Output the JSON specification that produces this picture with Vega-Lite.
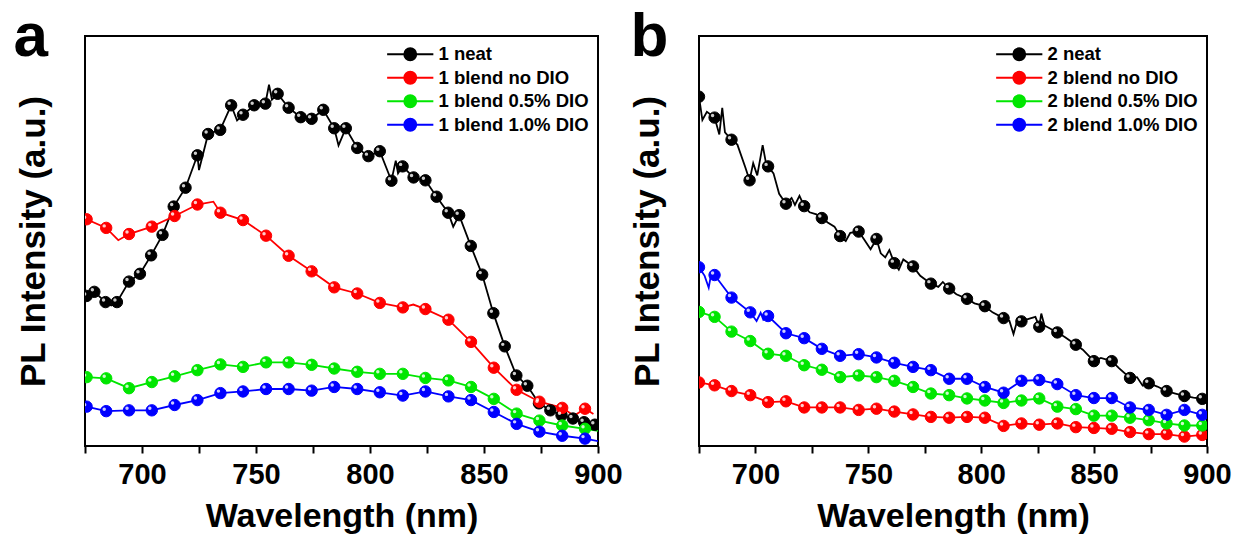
{
 "$schema": "https://vega.github.io/schema/vega-lite/v6.json",
 "background": "white",
 "padding": {"left": 12, "top": 4, "right": 5, "bottom": 0},
 "bounds": "flush",
 "spacing": 101,
 "config": {
  "font": "Liberation Sans",
  "view": {"stroke": "#000", "strokeWidth": 2},
  "axisX": {"domain": false, "grid": false, "tickSize": 7, "tickWidth": 2, "tickColor": "#000", "labelFontSize": 29, "labelFontWeight": "bold", "labelColor": "#000", "labelPadding": 7, "titleFontSize": 34, "titleFontWeight": "bold", "titleColor": "#000", "titlePadding": 10},
  "axisY": {"domain": false, "grid": false, "ticks": false, "labels": false, "minExtent": 0, "titleFontSize": 35, "titleFontWeight": "bold", "titleColor": "#000", "titlePadding": 34},
  "legend": {"title": null, "orient": "top-right", "offset": 9, "padding": 0, "symbolSize": 156, "symbolStrokeWidth": 2, "labelFontSize": 18.5, "labelFontWeight": "bold", "labelColor": "#000", "labelOffset": 19, "rowPadding": 2.5}
 },
 "datasets": {
  "a": [
   {"s":"1 neat","w":675,"v":36,"m":0},
   {"s":"1 neat","w":675.7,"v":36.6,"m":1},
   {"s":"1 neat","w":679.1,"v":37.6,"m":1},
   {"s":"1 neat","w":684,"v":35.1,"m":1},
   {"s":"1 neat","w":686.5,"v":34.3,"m":0},
   {"s":"1 neat","w":689,"v":35.1,"m":1},
   {"s":"1 neat","w":694.3,"v":40.1,"m":1},
   {"s":"1 neat","w":699.1,"v":42,"m":1},
   {"s":"1 neat","w":704,"v":46.5,"m":1},
   {"s":"1 neat","w":709,"v":51.5,"m":1},
   {"s":"1 neat","w":713.9,"v":58.4,"m":1},
   {"s":"1 neat","w":719.1,"v":63,"m":1},
   {"s":"1 neat","w":724.3,"v":70.9,"m":1},
   {"s":"1 neat","w":725,"v":67.3,"m":0},
   {"s":"1 neat","w":729,"v":76.1,"m":1},
   {"s":"1 neat","w":734.3,"v":77.1,"m":1},
   {"s":"1 neat","w":739.1,"v":83.1,"m":1},
   {"s":"1 neat","w":741.7,"v":79.4,"m":0},
   {"s":"1 neat","w":744.3,"v":80.8,"m":1},
   {"s":"1 neat","w":749.2,"v":83.1,"m":1},
   {"s":"1 neat","w":754.1,"v":83.5,"m":1},
   {"s":"1 neat","w":755.7,"v":88.1,"m":0},
   {"s":"1 neat","w":757,"v":84.5,"m":0},
   {"s":"1 neat","w":759.5,"v":85.9,"m":1},
   {"s":"1 neat","w":764.3,"v":82.5,"m":1},
   {"s":"1 neat","w":769.6,"v":80.2,"m":1},
   {"s":"1 neat","w":774.4,"v":79.8,"m":1},
   {"s":"1 neat","w":779.5,"v":82,"m":1},
   {"s":"1 neat","w":784.3,"v":77.5,"m":1},
   {"s":"1 neat","w":786.2,"v":73.3,"m":0},
   {"s":"1 neat","w":789.4,"v":77.5,"m":1},
   {"s":"1 neat","w":794.4,"v":72.7,"m":1},
   {"s":"1 neat","w":799.3,"v":70.7,"m":1},
   {"s":"1 neat","w":804.3,"v":71.9,"m":1},
   {"s":"1 neat","w":809.4,"v":64.7,"m":1},
   {"s":"1 neat","w":811.3,"v":69.6,"m":0},
   {"s":"1 neat","w":812.3,"v":66.5,"m":0},
   {"s":"1 neat","w":814.3,"v":68.2,"m":1},
   {"s":"1 neat","w":819.1,"v":65.5,"m":1},
   {"s":"1 neat","w":824.3,"v":64.8,"m":1},
   {"s":"1 neat","w":829.2,"v":60.8,"m":1},
   {"s":"1 neat","w":834.3,"v":56.9,"m":1},
   {"s":"1 neat","w":836.5,"v":53.5,"m":0},
   {"s":"1 neat","w":839.1,"v":56.3,"m":1},
   {"s":"1 neat","w":844.2,"v":48.8,"m":1},
   {"s":"1 neat","w":849.2,"v":41.8,"m":1},
   {"s":"1 neat","w":854.1,"v":32.4,"m":1},
   {"s":"1 neat","w":859.1,"v":24.3,"m":1},
   {"s":"1 neat","w":864.2,"v":17.2,"m":1},
   {"s":"1 neat","w":869,"v":14.7,"m":1},
   {"s":"1 neat","w":874.1,"v":10.4,"m":1},
   {"s":"1 neat","w":879.1,"v":8.7,"m":1},
   {"s":"1 neat","w":884,"v":7.5,"m":1},
   {"s":"1 neat","w":889,"v":6.7,"m":1},
   {"s":"1 neat","w":893.9,"v":5.8,"m":1},
   {"s":"1 neat","w":898.6,"v":5.2,"m":1},
   {"s":"1 neat","w":900,"v":5,"m":0},

   {"s":"1 blend no DIO","w":675,"v":56,"m":0},
   {"s":"1 blend no DIO","w":675.7,"v":55.3,"m":1},
   {"s":"1 blend no DIO","w":684.3,"v":53.2,"m":1},
   {"s":"1 blend no DIO","w":689.6,"v":50.2,"m":0},
   {"s":"1 blend no DIO","w":694.3,"v":51.7,"m":1},
   {"s":"1 blend no DIO","w":704.3,"v":53.5,"m":1},
   {"s":"1 blend no DIO","w":714.3,"v":56.1,"m":1},
   {"s":"1 blend no DIO","w":724.3,"v":58.9,"m":1},
   {"s":"1 blend no DIO","w":731.3,"v":59.6,"m":0},
   {"s":"1 blend no DIO","w":734.4,"v":56.9,"m":1},
   {"s":"1 blend no DIO","w":744.3,"v":55.1,"m":1},
   {"s":"1 blend no DIO","w":754.4,"v":51.3,"m":1},
   {"s":"1 blend no DIO","w":764.3,"v":46.4,"m":1},
   {"s":"1 blend no DIO","w":774.4,"v":42.6,"m":1},
   {"s":"1 blend no DIO","w":784.3,"v":38.7,"m":1},
   {"s":"1 blend no DIO","w":794.4,"v":37.2,"m":1},
   {"s":"1 blend no DIO","w":804.3,"v":34.9,"m":1},
   {"s":"1 blend no DIO","w":814.4,"v":33.8,"m":1},
   {"s":"1 blend no DIO","w":819,"v":34.5,"m":0},
   {"s":"1 blend no DIO","w":824.3,"v":33.4,"m":1},
   {"s":"1 blend no DIO","w":834.4,"v":30.8,"m":1},
   {"s":"1 blend no DIO","w":844.3,"v":25.4,"m":1},
   {"s":"1 blend no DIO","w":854.3,"v":19.1,"m":1},
   {"s":"1 blend no DIO","w":864.3,"v":13.7,"m":1},
   {"s":"1 blend no DIO","w":874.3,"v":10.8,"m":1},
   {"s":"1 blend no DIO","w":884.3,"v":9.3,"m":1},
   {"s":"1 blend no DIO","w":889.5,"v":7.4,"m":0},
   {"s":"1 blend no DIO","w":894.3,"v":9.1,"m":1},
   {"s":"1 blend no DIO","w":898,"v":7.8,"m":0},

   {"s":"1 blend 0.5% DIO","w":675,"v":17,"m":0},
   {"s":"1 blend 0.5% DIO","w":675.7,"v":16.8,"m":1},
   {"s":"1 blend 0.5% DIO","w":684.3,"v":16.5,"m":1},
   {"s":"1 blend 0.5% DIO","w":694.3,"v":14.1,"m":1},
   {"s":"1 blend 0.5% DIO","w":704.3,"v":15.6,"m":1},
   {"s":"1 blend 0.5% DIO","w":714.3,"v":17,"m":1},
   {"s":"1 blend 0.5% DIO","w":724.3,"v":18.5,"m":1},
   {"s":"1 blend 0.5% DIO","w":734.4,"v":19.9,"m":1},
   {"s":"1 blend 0.5% DIO","w":744.3,"v":19.3,"m":1},
   {"s":"1 blend 0.5% DIO","w":754.4,"v":20.4,"m":1},
   {"s":"1 blend 0.5% DIO","w":764.3,"v":20.4,"m":1},
   {"s":"1 blend 0.5% DIO","w":774.4,"v":19.8,"m":1},
   {"s":"1 blend 0.5% DIO","w":784.3,"v":18.9,"m":1},
   {"s":"1 blend 0.5% DIO","w":794.4,"v":18.1,"m":1},
   {"s":"1 blend 0.5% DIO","w":804.3,"v":17.6,"m":1},
   {"s":"1 blend 0.5% DIO","w":814.4,"v":17.6,"m":1},
   {"s":"1 blend 0.5% DIO","w":824.3,"v":16.6,"m":1},
   {"s":"1 blend 0.5% DIO","w":834.4,"v":16,"m":1},
   {"s":"1 blend 0.5% DIO","w":844.3,"v":14.4,"m":1},
   {"s":"1 blend 0.5% DIO","w":854.3,"v":11.5,"m":1},
   {"s":"1 blend 0.5% DIO","w":864.3,"v":7.9,"m":1},
   {"s":"1 blend 0.5% DIO","w":874.3,"v":6.2,"m":1},
   {"s":"1 blend 0.5% DIO","w":884.3,"v":5,"m":1},
   {"s":"1 blend 0.5% DIO","w":894.3,"v":4.2,"m":1},
   {"s":"1 blend 0.5% DIO","w":900,"v":3.7,"m":0},

   {"s":"1 blend 1.0% DIO","w":675,"v":9.8,"m":0},
   {"s":"1 blend 1.0% DIO","w":675.7,"v":9.6,"m":1},
   {"s":"1 blend 1.0% DIO","w":684.3,"v":8.5,"m":1},
   {"s":"1 blend 1.0% DIO","w":694.3,"v":8.7,"m":1},
   {"s":"1 blend 1.0% DIO","w":704.3,"v":8.7,"m":1},
   {"s":"1 blend 1.0% DIO","w":714.3,"v":10,"m":1},
   {"s":"1 blend 1.0% DIO","w":724.3,"v":11.2,"m":1},
   {"s":"1 blend 1.0% DIO","w":734.4,"v":12.9,"m":1},
   {"s":"1 blend 1.0% DIO","w":744.3,"v":13.3,"m":1},
   {"s":"1 blend 1.0% DIO","w":754.4,"v":13.9,"m":1},
   {"s":"1 blend 1.0% DIO","w":764.3,"v":13.9,"m":1},
   {"s":"1 blend 1.0% DIO","w":774.4,"v":13.5,"m":1},
   {"s":"1 blend 1.0% DIO","w":784.3,"v":14.4,"m":1},
   {"s":"1 blend 1.0% DIO","w":794.4,"v":13.9,"m":1},
   {"s":"1 blend 1.0% DIO","w":804.3,"v":13.1,"m":1},
   {"s":"1 blend 1.0% DIO","w":814.4,"v":12.3,"m":1},
   {"s":"1 blend 1.0% DIO","w":824.3,"v":13.3,"m":1},
   {"s":"1 blend 1.0% DIO","w":834.4,"v":12.1,"m":1},
   {"s":"1 blend 1.0% DIO","w":844.3,"v":11.2,"m":1},
   {"s":"1 blend 1.0% DIO","w":854.3,"v":8.3,"m":1},
   {"s":"1 blend 1.0% DIO","w":864.3,"v":5.4,"m":1},
   {"s":"1 blend 1.0% DIO","w":874.3,"v":3.5,"m":1},
   {"s":"1 blend 1.0% DIO","w":884.3,"v":2.5,"m":1},
   {"s":"1 blend 1.0% DIO","w":894.3,"v":1.8,"m":1},
   {"s":"1 blend 1.0% DIO","w":900,"v":1.2,"m":0}
  ],
  "b": [
   {"s":"2 neat","w":675,"v":85.2,"m":1},
   {"s":"2 neat","w":676.5,"v":79.5,"m":0},
   {"s":"2 neat","w":678.5,"v":81.5,"m":0},
   {"s":"2 neat","w":681.9,"v":80.1,"m":1},
   {"s":"2 neat","w":684,"v":76,"m":0},
   {"s":"2 neat","w":685.3,"v":82.5,"m":0},
   {"s":"2 neat","w":686.5,"v":76.5,"m":0},
   {"s":"2 neat","w":689.4,"v":74.7,"m":1},
   {"s":"2 neat","w":692,"v":73.5,"m":0},
   {"s":"2 neat","w":695.5,"v":68,"m":0},
   {"s":"2 neat","w":697.4,"v":64.8,"m":1},
   {"s":"2 neat","w":699,"v":69,"m":0},
   {"s":"2 neat","w":700.8,"v":66,"m":0},
   {"s":"2 neat","w":703.2,"v":73.4,"m":0},
   {"s":"2 neat","w":704.5,"v":69.5,"m":0},
   {"s":"2 neat","w":705.6,"v":68.2,"m":1},
   {"s":"2 neat","w":708,"v":66.5,"m":0},
   {"s":"2 neat","w":710.5,"v":61.5,"m":0},
   {"s":"2 neat","w":713.5,"v":59.1,"m":1},
   {"s":"2 neat","w":716,"v":60.5,"m":0},
   {"s":"2 neat","w":717.5,"v":58.8,"m":0},
   {"s":"2 neat","w":719.5,"v":61,"m":0},
   {"s":"2 neat","w":721.6,"v":58.5,"m":1},
   {"s":"2 neat","w":724,"v":57,"m":0},
   {"s":"2 neat","w":727,"v":56.5,"m":0},
   {"s":"2 neat","w":729.4,"v":55.6,"m":1},
   {"s":"2 neat","w":732,"v":54.5,"m":0},
   {"s":"2 neat","w":735,"v":53.5,"m":0},
   {"s":"2 neat","w":737.5,"v":51.2,"m":1},
   {"s":"2 neat","w":740,"v":50,"m":0},
   {"s":"2 neat","w":742,"v":52,"m":0},
   {"s":"2 neat","w":745.7,"v":52.3,"m":1},
   {"s":"2 neat","w":748,"v":50.5,"m":0},
   {"s":"2 neat","w":751,"v":48,"m":0},
   {"s":"2 neat","w":753.6,"v":50.5,"m":1},
   {"s":"2 neat","w":755.5,"v":47,"m":0},
   {"s":"2 neat","w":757.5,"v":46,"m":0},
   {"s":"2 neat","w":759.3,"v":47.8,"m":0},
   {"s":"2 neat","w":761.5,"v":44.6,"m":1},
   {"s":"2 neat","w":763.5,"v":43,"m":0},
   {"s":"2 neat","w":765.5,"v":45.5,"m":0},
   {"s":"2 neat","w":769.8,"v":43.8,"m":1},
   {"s":"2 neat","w":773,"v":41.5,"m":0},
   {"s":"2 neat","w":777.7,"v":39.6,"m":1},
   {"s":"2 neat","w":781,"v":38.8,"m":0},
   {"s":"2 neat","w":783,"v":40,"m":0},
   {"s":"2 neat","w":785.8,"v":38.4,"m":1},
   {"s":"2 neat","w":789,"v":37,"m":0},
   {"s":"2 neat","w":793.7,"v":35.9,"m":1},
   {"s":"2 neat","w":797,"v":34.8,"m":0},
   {"s":"2 neat","w":801.6,"v":34.1,"m":1},
   {"s":"2 neat","w":805,"v":32.6,"m":0},
   {"s":"2 neat","w":809.9,"v":31.2,"m":1},
   {"s":"2 neat","w":812.5,"v":30.5,"m":0},
   {"s":"2 neat","w":814.3,"v":27.3,"m":0},
   {"s":"2 neat","w":815.8,"v":30.3,"m":0},
   {"s":"2 neat","w":817.8,"v":30.4,"m":1},
   {"s":"2 neat","w":821,"v":31,"m":0},
   {"s":"2 neat","w":824,"v":31.5,"m":0},
   {"s":"2 neat","w":825.7,"v":29.1,"m":1},
   {"s":"2 neat","w":826.6,"v":32.3,"m":0},
   {"s":"2 neat","w":828,"v":29.4,"m":0},
   {"s":"2 neat","w":833.7,"v":27.7,"m":1},
   {"s":"2 neat","w":837,"v":26.6,"m":0},
   {"s":"2 neat","w":841.9,"v":24.7,"m":1},
   {"s":"2 neat","w":845,"v":23.5,"m":0},
   {"s":"2 neat","w":849.9,"v":20.7,"m":1},
   {"s":"2 neat","w":853,"v":21.5,"m":0},
   {"s":"2 neat","w":857.8,"v":20.7,"m":1},
   {"s":"2 neat","w":861,"v":19,"m":0},
   {"s":"2 neat","w":865.9,"v":16.6,"m":1},
   {"s":"2 neat","w":869,"v":16.8,"m":0},
   {"s":"2 neat","w":871.5,"v":14.7,"m":0},
   {"s":"2 neat","w":874.2,"v":15.3,"m":1},
   {"s":"2 neat","w":878,"v":14.5,"m":0},
   {"s":"2 neat","w":882.1,"v":13.4,"m":1},
   {"s":"2 neat","w":886,"v":12.8,"m":0},
   {"s":"2 neat","w":890,"v":12.2,"m":1},
   {"s":"2 neat","w":894,"v":11.8,"m":0},
   {"s":"2 neat","w":897.9,"v":11.5,"m":1},
   {"s":"2 neat","w":900,"v":11.2,"m":0},

   {"s":"2 blend no DIO","w":675,"v":15.5,"m":1},
   {"s":"2 blend no DIO","w":681.9,"v":14.8,"m":1},
   {"s":"2 blend no DIO","w":689.4,"v":13.4,"m":1},
   {"s":"2 blend no DIO","w":697.7,"v":12.4,"m":1},
   {"s":"2 blend no DIO","w":705.6,"v":10.7,"m":1},
   {"s":"2 blend no DIO","w":713.5,"v":10.9,"m":1},
   {"s":"2 blend no DIO","w":721.6,"v":9.4,"m":1},
   {"s":"2 blend no DIO","w":729.4,"v":9.4,"m":1},
   {"s":"2 blend no DIO","w":737.5,"v":9.4,"m":1},
   {"s":"2 blend no DIO","w":745.7,"v":8.8,"m":1},
   {"s":"2 blend no DIO","w":753.6,"v":9.1,"m":1},
   {"s":"2 blend no DIO","w":761.5,"v":8.4,"m":1},
   {"s":"2 blend no DIO","w":769.8,"v":7.7,"m":1},
   {"s":"2 blend no DIO","w":777.7,"v":7.1,"m":1},
   {"s":"2 blend no DIO","w":785.8,"v":6.9,"m":1},
   {"s":"2 blend no DIO","w":793.7,"v":7.1,"m":1},
   {"s":"2 blend no DIO","w":801.6,"v":6.9,"m":1},
   {"s":"2 blend no DIO","w":809.9,"v":4.9,"m":1},
   {"s":"2 blend no DIO","w":817.8,"v":5.5,"m":1},
   {"s":"2 blend no DIO","w":825.7,"v":5.2,"m":1},
   {"s":"2 blend no DIO","w":833.7,"v":5.5,"m":1},
   {"s":"2 blend no DIO","w":841.9,"v":4.6,"m":1},
   {"s":"2 blend no DIO","w":849.9,"v":4.4,"m":1},
   {"s":"2 blend no DIO","w":857.8,"v":4.2,"m":1},
   {"s":"2 blend no DIO","w":865.9,"v":3.4,"m":1},
   {"s":"2 blend no DIO","w":874.2,"v":2.9,"m":1},
   {"s":"2 blend no DIO","w":882.1,"v":2.9,"m":1},
   {"s":"2 blend no DIO","w":890,"v":2.3,"m":1},
   {"s":"2 blend no DIO","w":897.9,"v":2.7,"m":1},
   {"s":"2 blend no DIO","w":900,"v":2.7,"m":0},

   {"s":"2 blend 0.5% DIO","w":675,"v":32.7,"m":1},
   {"s":"2 blend 0.5% DIO","w":681.9,"v":31.5,"m":1},
   {"s":"2 blend 0.5% DIO","w":689.4,"v":27.9,"m":1},
   {"s":"2 blend 0.5% DIO","w":697.7,"v":25.6,"m":1},
   {"s":"2 blend 0.5% DIO","w":705.6,"v":22.5,"m":1},
   {"s":"2 blend 0.5% DIO","w":713.5,"v":22,"m":1},
   {"s":"2 blend 0.5% DIO","w":721.6,"v":19.7,"m":1},
   {"s":"2 blend 0.5% DIO","w":729.4,"v":18.6,"m":1},
   {"s":"2 blend 0.5% DIO","w":737.5,"v":16.8,"m":1},
   {"s":"2 blend 0.5% DIO","w":745.7,"v":17.2,"m":1},
   {"s":"2 blend 0.5% DIO","w":753.6,"v":16.8,"m":1},
   {"s":"2 blend 0.5% DIO","w":761.5,"v":15.9,"m":1},
   {"s":"2 blend 0.5% DIO","w":769.8,"v":14.4,"m":1},
   {"s":"2 blend 0.5% DIO","w":777.7,"v":12.8,"m":1},
   {"s":"2 blend 0.5% DIO","w":785.8,"v":12.4,"m":1},
   {"s":"2 blend 0.5% DIO","w":793.7,"v":11.6,"m":1},
   {"s":"2 blend 0.5% DIO","w":801.6,"v":11.1,"m":1},
   {"s":"2 blend 0.5% DIO","w":809.9,"v":10.5,"m":1},
   {"s":"2 blend 0.5% DIO","w":817.8,"v":11.1,"m":1},
   {"s":"2 blend 0.5% DIO","w":825.7,"v":11.6,"m":1},
   {"s":"2 blend 0.5% DIO","w":833.7,"v":9.6,"m":1},
   {"s":"2 blend 0.5% DIO","w":841.9,"v":9,"m":1},
   {"s":"2 blend 0.5% DIO","w":849.9,"v":7.4,"m":1},
   {"s":"2 blend 0.5% DIO","w":857.8,"v":7.4,"m":1},
   {"s":"2 blend 0.5% DIO","w":865.9,"v":6.9,"m":1},
   {"s":"2 blend 0.5% DIO","w":874.2,"v":6.3,"m":1},
   {"s":"2 blend 0.5% DIO","w":882.1,"v":5.5,"m":1},
   {"s":"2 blend 0.5% DIO","w":890,"v":5,"m":1},
   {"s":"2 blend 0.5% DIO","w":897.9,"v":5,"m":1},
   {"s":"2 blend 0.5% DIO","w":900,"v":5,"m":0},

   {"s":"2 blend 1.0% DIO","w":675,"v":43.6,"m":1},
   {"s":"2 blend 1.0% DIO","w":677.5,"v":41.5,"m":0},
   {"s":"2 blend 1.0% DIO","w":679.3,"v":38.6,"m":0},
   {"s":"2 blend 1.0% DIO","w":680.5,"v":42.3,"m":0},
   {"s":"2 blend 1.0% DIO","w":681.9,"v":41.7,"m":1},
   {"s":"2 blend 1.0% DIO","w":689.4,"v":36.2,"m":1},
   {"s":"2 blend 1.0% DIO","w":697.7,"v":32.6,"m":1},
   {"s":"2 blend 1.0% DIO","w":700.5,"v":30.5,"m":0},
   {"s":"2 blend 1.0% DIO","w":702.3,"v":32.5,"m":0},
   {"s":"2 blend 1.0% DIO","w":703.5,"v":30.8,"m":0},
   {"s":"2 blend 1.0% DIO","w":705.6,"v":31.7,"m":1},
   {"s":"2 blend 1.0% DIO","w":713.5,"v":27.5,"m":1},
   {"s":"2 blend 1.0% DIO","w":721.6,"v":26.3,"m":1},
   {"s":"2 blend 1.0% DIO","w":729.4,"v":23.7,"m":1},
   {"s":"2 blend 1.0% DIO","w":737.5,"v":22,"m":1},
   {"s":"2 blend 1.0% DIO","w":745.7,"v":22.4,"m":1},
   {"s":"2 blend 1.0% DIO","w":753.6,"v":21.6,"m":1},
   {"s":"2 blend 1.0% DIO","w":761.5,"v":20.3,"m":1},
   {"s":"2 blend 1.0% DIO","w":769.8,"v":19.3,"m":1},
   {"s":"2 blend 1.0% DIO","w":777.7,"v":18.5,"m":1},
   {"s":"2 blend 1.0% DIO","w":785.8,"v":16.4,"m":1},
   {"s":"2 blend 1.0% DIO","w":793.7,"v":16.4,"m":1},
   {"s":"2 blend 1.0% DIO","w":801.6,"v":14.4,"m":1},
   {"s":"2 blend 1.0% DIO","w":809.9,"v":13,"m":1},
   {"s":"2 blend 1.0% DIO","w":817.8,"v":15.9,"m":1},
   {"s":"2 blend 1.0% DIO","w":825.7,"v":16.1,"m":1},
   {"s":"2 blend 1.0% DIO","w":833.7,"v":15.1,"m":1},
   {"s":"2 blend 1.0% DIO","w":841.9,"v":12.4,"m":1},
   {"s":"2 blend 1.0% DIO","w":849.9,"v":11.7,"m":1},
   {"s":"2 blend 1.0% DIO","w":857.8,"v":11.7,"m":1},
   {"s":"2 blend 1.0% DIO","w":865.9,"v":9.4,"m":1},
   {"s":"2 blend 1.0% DIO","w":874.2,"v":8.8,"m":1},
   {"s":"2 blend 1.0% DIO","w":882.1,"v":7.6,"m":1},
   {"s":"2 blend 1.0% DIO","w":890,"v":8.8,"m":1},
   {"s":"2 blend 1.0% DIO","w":897.9,"v":7.6,"m":1},
   {"s":"2 blend 1.0% DIO","w":900,"v":7.3,"m":0}
  ]
 },
 "hconcat": [
  {
   "width": 513, "height": 410,
   "data": {"name": "a"},
   "resolve": {"axis": {"x": "independent"}},
   "layer": [
    {"mark": {"type": "line", "strokeWidth": 1.8, "clip": true},
     "encoding": {
      "x": {"field": "w", "type": "quantitative", "scale": {"domain": [675, 900], "nice": false, "zero": false}, "axis": {"title": "Wavelength (nm)", "orient": "bottom", "values": [675, 700, 725, 750, 775, 800, 825, 850, 875, 900], "labelExpr": "datum.value % 50 === 0 ? datum.label : ''", "labelOverlap": false, "labelFlush": false}},
      "y": {"field": "v", "type": "quantitative", "scale": {"domain": [0, 100], "nice": false}, "axis": {"title": "PL Intensity (a.u.)"}},
      "stroke": {"field": "s", "type": "nominal", "scale": {"domain": ["1 neat", "1 blend no DIO", "1 blend 0.5% DIO", "1 blend 1.0% DIO"], "range": ["#000000", "#ff0000", "#00e600", "#0000ff"]}, "legend": {"symbolType": "M-3.7,0H-0.95M0.95,0H3.7M-0.95,0A0.95,0.95 0 1,0 0.95,0A0.95,0.95 0 1,0 -0.95,0"}}}},
    {"transform": [{"filter": "datum.m == 1"}],
     "mark": {"type": "point", "filled": true, "size": 130, "strokeWidth": 1, "opacity": 1, "clip": true},
     "encoding": {
      "x": {"field": "w", "type": "quantitative", "axis": null},
      "y": {"field": "v", "type": "quantitative", "axis": {"title": "PL Intensity (a.u.)"}},
      "fill": {"field": "s", "type": "nominal", "scale": {"domain": ["1 neat", "1 blend no DIO", "1 blend 0.5% DIO", "1 blend 1.0% DIO"], "range": ["#000000", "#ff0000", "#00e600", "#0000ff"]}, "legend": {"symbolType": "M-3.7,0H-0.95M0.95,0H3.7M-0.95,0A0.95,0.95 0 1,0 0.95,0A0.95,0.95 0 1,0 -0.95,0"}},
      "stroke": {"field": "s", "type": "nominal", "scale": {"domain": ["1 neat", "1 blend no DIO", "1 blend 0.5% DIO", "1 blend 1.0% DIO"], "range": ["#000000", "#ff0000", "#00e600", "#0000ff"]}, "legend": {"symbolType": "M-3.7,0H-0.95M0.95,0H3.7M-0.95,0A0.95,0.95 0 1,0 0.95,0A0.95,0.95 0 1,0 -0.95,0"}}
     }},
    {"transform": [{"filter": "datum.m == 1"}],
     "mark": {"type": "point", "filled": true, "fill": "#ffffff", "size": 12, "opacity": 0.8, "strokeWidth": 0, "xOffset": -2, "yOffset": -2, "clip": true},
     "encoding": {
      "x": {"field": "w", "type": "quantitative", "axis": null},
      "y": {"field": "v", "type": "quantitative", "axis": {"title": "PL Intensity (a.u.)"}}
     }},
    {"transform": [{"filter": "datum.m == 2"}],
     "mark": {"type": "point", "opacity": 0},
     "encoding": {
      "x": {"field": "w", "type": "quantitative", "axis": {"orient": "top", "title": "a", "labels": false, "ticks": false, "domain": false, "titleFontSize": 62, "titleFontWeight": "bold", "titleColor": "#000", "titleX": -72, "titleY": 19, "titleAngle": 0, "titleAlign": "left", "titleBaseline": "alphabetic"}},
      "y": {"field": "v", "type": "quantitative", "axis": {"title": "PL Intensity (a.u.)"}}
     }}
   ]
  },
  {
   "width": 508, "height": 410,
   "data": {"name": "b"},
   "resolve": {"axis": {"x": "independent"}},
   "layer": [
    {"mark": {"type": "line", "strokeWidth": 1.8, "clip": true},
     "encoding": {
      "x": {"field": "w", "type": "quantitative", "scale": {"domain": [675, 900], "nice": false, "zero": false}, "axis": {"title": "Wavelength (nm)", "orient": "bottom", "values": [675, 700, 725, 750, 775, 800, 825, 850, 875, 900], "labelExpr": "datum.value % 50 === 0 ? datum.label : ''", "labelOverlap": false, "labelFlush": false}},
      "y": {"field": "v", "type": "quantitative", "scale": {"domain": [0, 100], "nice": false}, "axis": {"title": "PL Intensity (a.u.)"}},
      "stroke": {"field": "s", "type": "nominal", "scale": {"domain": ["2 neat", "2 blend no DIO", "2 blend 0.5% DIO", "2 blend 1.0% DIO"], "range": ["#000000", "#ff0000", "#00e600", "#0000ff"]}, "legend": {"symbolType": "M-3.7,0H-0.95M0.95,0H3.7M-0.95,0A0.95,0.95 0 1,0 0.95,0A0.95,0.95 0 1,0 -0.95,0"}}}},
    {"transform": [{"filter": "datum.m == 1"}],
     "mark": {"type": "point", "filled": true, "size": 130, "strokeWidth": 1, "opacity": 1, "clip": true},
     "encoding": {
      "x": {"field": "w", "type": "quantitative", "axis": null},
      "y": {"field": "v", "type": "quantitative", "axis": {"title": "PL Intensity (a.u.)"}},
      "fill": {"field": "s", "type": "nominal", "scale": {"domain": ["2 neat", "2 blend no DIO", "2 blend 0.5% DIO", "2 blend 1.0% DIO"], "range": ["#000000", "#ff0000", "#00e600", "#0000ff"]}, "legend": {"symbolType": "M-3.7,0H-0.95M0.95,0H3.7M-0.95,0A0.95,0.95 0 1,0 0.95,0A0.95,0.95 0 1,0 -0.95,0"}},
      "stroke": {"field": "s", "type": "nominal", "scale": {"domain": ["2 neat", "2 blend no DIO", "2 blend 0.5% DIO", "2 blend 1.0% DIO"], "range": ["#000000", "#ff0000", "#00e600", "#0000ff"]}, "legend": {"symbolType": "M-3.7,0H-0.95M0.95,0H3.7M-0.95,0A0.95,0.95 0 1,0 0.95,0A0.95,0.95 0 1,0 -0.95,0"}}
     }},
    {"transform": [{"filter": "datum.m == 1"}],
     "mark": {"type": "point", "filled": true, "fill": "#ffffff", "size": 12, "opacity": 0.8, "strokeWidth": 0, "xOffset": -2, "yOffset": -2, "clip": true},
     "encoding": {
      "x": {"field": "w", "type": "quantitative", "axis": null},
      "y": {"field": "v", "type": "quantitative", "axis": {"title": "PL Intensity (a.u.)"}}
     }},
    {"transform": [{"filter": "datum.m == 2"}],
     "mark": {"type": "point", "opacity": 0},
     "encoding": {
      "x": {"field": "w", "type": "quantitative", "axis": {"orient": "top", "title": "b", "labels": false, "ticks": false, "domain": false, "titleFontSize": 62, "titleFontWeight": "bold", "titleColor": "#000", "titleX": -69, "titleY": 19, "titleAngle": 0, "titleAlign": "left", "titleBaseline": "alphabetic"}},
      "y": {"field": "v", "type": "quantitative", "axis": {"title": "PL Intensity (a.u.)"}}
     }}
   ]
  }
 ],
 "resolve": {"scale": {"fill": "independent", "stroke": "independent"}}
}
